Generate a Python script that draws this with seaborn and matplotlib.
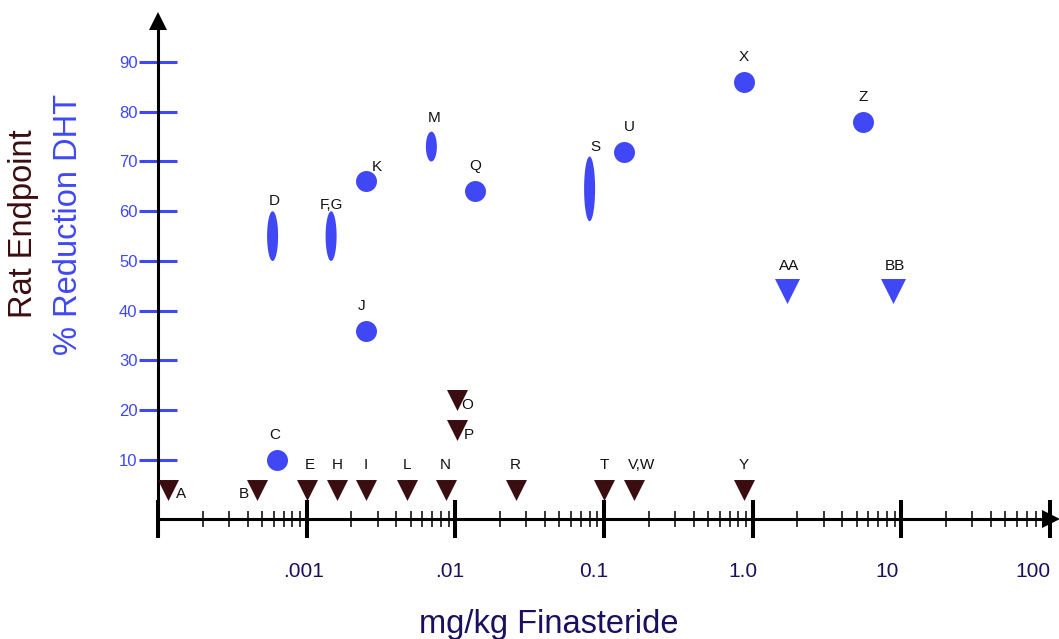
import numpy as np
import matplotlib
matplotlib.use("Agg")
import matplotlib.pyplot as plt
import matplotlib.transforms as mtransforms
from matplotlib.ticker import FixedLocator, LogLocator, NullFormatter, NullLocator
import seaborn as sns

# ---------------- data ----------------
circle_labels = ["C", "J", "K", "Q", "U", "X", "Z"]
circle_dose = [6.3e-4, 2.5e-3, 2.5e-3, 0.0136, 0.137, 0.87, 5.5]
circle_dht = [10, 36, 66, 64, 72, 86, 78]

range_labels = ["D", "F,G", "M", "S"]
range_dose = [5.9e-4, 1.46e-3, 6.9e-3, 0.080]
range_low = [50, 50, 70, 58]
range_high = [60, 60, 76, 71]

rat_labels = ["A", "B", "E", "H", "I", "L", "N", "O", "P", "R", "T", "V,W", "Y"]
rat_dose = [1.17e-4, 4.6e-4, 1.0e-3, 1.6e-3, 2.5e-3, 4.7e-3, 8.6e-3,
            0.0102, 0.0102, 0.0254, 0.1, 0.16, 0.87]
rat_value = [4, 4, 4, 4, 4, 4, 4, 22, 16, 4, 4, 4, 4]

tri_labels = ["AA", "BB"]
tri_dose = [1.7, 8.8]
tri_dht = [44, 44]

x_ticks = [1e-4, 1e-3, 1e-2, 1e-1, 1, 10, 100]
x_tick_labels = ["", ".001", ".01", "0.1", "1.0", "10", "100"]
y_ticks = [10, 20, 30, 40, 50, 60, 70, 80, 90]
y_tick_labels = ["10", "20", "30", "40", "50", "60", "70", "80", "90"]

# ---------------- style ----------------
BLUE = "#3f48f4"
BROWN = "#3a0d10"
NAVY = "#1a1060"
TXT = "#111111"

sns.set_theme(style="white")
plt.rcParams["font.family"] = ["Liberation Sans", "DejaVu Sans"]

W, H = 1059, 639
fig = plt.figure(figsize=(W / 100, H / 100), dpi=100)
ax_left, ax_right, ax_bottom, ax_top = 158, 1050, 519, 12.25
ax = fig.add_axes([ax_left / W, (H - ax_bottom) / H,
                   (ax_right - ax_left) / W, (ax_bottom - ax_top) / H])
ax.set_xscale("log")
ax.set_xlim(1e-4, 100)
ax.set_ylim(-1.86, 100)
for sp in ax.spines.values():
    sp.set_visible(False)
ax.grid(False)

# markers
sns.scatterplot(x=circle_dose, y=circle_dht, ax=ax, s=228, color=BLUE,
                linewidth=0, marker="o", zorder=4, legend=False)
sns.scatterplot(x=rat_dose, y=rat_value, ax=ax, s=228, color=BROWN,
                linewidth=0, marker="v", zorder=4, legend=False)
sns.scatterplot(x=tri_dose, y=tri_dht, ax=ax, s=324, color=BLUE,
                linewidth=0, marker="v", zorder=4, legend=False)

# range ellipses (vertical), half-width given in decades of the log axis
half_w_dec = 0.037
t = np.linspace(0, 2 * np.pi, 120)
for d, lo, hi in zip(range_dose, range_low, range_high):
    mid, half = (lo + hi) / 2, (hi - lo) / 2
    ax.fill(d * 10 ** (half_w_dec * np.cos(t)), mid + half * np.sin(t),
            color=BLUE, lw=0, zorder=4)

# point labels
default_off = (0, 25)
special_off = {"A": (13, -4.5), "B": (-13, -4.5), "O": (11, -5), "P": (12, -5),
               "K": (11, 14.5), "U": (5, 25), "J": (-4, 25), "V,W": (7, 25),
               "E": (3, 25), "C": (-2.5, 25), "AA": (2, 25), "BB": (2, 25)}
range_off = {"D": (2, 10), "F,G": (0, 6), "M": (3, 14), "S": (6, 10)}

def lab(txt, x, y, off):
    ax.annotate(txt, (x, y), xytext=off, textcoords="offset pixels",
                ha="center", va="center", fontsize=11, color=TXT, zorder=5)

for L, x, y in zip(circle_labels, circle_dose, circle_dht):
    lab(L, x, y, special_off.get(L, default_off))
for L, x, y in zip(rat_labels, rat_dose, rat_value):
    lab(L, x, y, special_off.get(L, default_off))
for L, x, y in zip(tri_labels, tri_dose, tri_dht):
    lab(L, x, y, special_off.get(L, default_off))
for L, x, y in zip(range_labels, range_dose, range_high):
    lab(L, x, y, range_off[L])

# axes lines and arrows
ah = ax_bottom - ax_top
ax.plot([0, 0], [-17 / ah, (ax_bottom - 27) / ah], transform=ax.transAxes,
        color="black", lw=2.2, clip_on=False, zorder=3, solid_capstyle="butt")
ax.plot([0], [(ax_bottom - 21) / ah], transform=ax.transAxes, marker="^",
        ms=13, color="black", clip_on=False, zorder=3, mew=0)
ax.plot([0, 1], [0, 0], transform=ax.transAxes, color="black", lw=2.2,
        clip_on=False, zorder=3, solid_capstyle="butt")
ax.plot([(1051 - ax_left) / (ax_right - ax_left)], [0], transform=ax.transAxes,
        marker=">", ms=12.5, color="black", clip_on=False, zorder=3, mew=0)

# ticks
ax.xaxis.set_major_locator(FixedLocator(x_ticks))
ax.set_xticklabels(x_tick_labels)
ax.xaxis.set_minor_locator(LogLocator(base=10, subs=np.arange(2, 10)))
ax.xaxis.set_minor_formatter(NullFormatter())
ax.tick_params(axis="x", which="major", direction="inout", length=27.4,
               width=2.9, color="black", labelsize=15, labelcolor=NAVY,
               pad=17, bottom=True)
ax.tick_params(axis="x", which="minor", direction="inout", length=12.2,
               width=1.1, color="black", bottom=True)
ax.set_yticks(y_ticks)
ax.set_yticklabels(y_tick_labels)
ax.yaxis.set_minor_locator(NullLocator())
ax.tick_params(axis="y", which="major", direction="inout", length=27.4,
               width=2.2, color=BLUE, labelsize=12, labelcolor=BLUE, pad=1,
               left=True)
# tick labels sit a little left of their tick marks (pixel shifts)
label_shift_px = [0, -3, -6, -10, -10, -14, -17]
for lbl, dx in zip(ax.get_xticklabels(), label_shift_px):
    lbl.set_transform(lbl.get_transform() +
                      mtransforms.ScaledTranslation(dx / 100, 0, fig.dpi_scale_trans))

ax.set_xlabel("")
ax.set_ylabel("")

# axis titles
fig.text(549 / W, (H - 624) / H, "mg/kg Finasteride", ha="center", va="center",
         fontsize=23.5, color=NAVY)
fig.text(24 / W, (H - 224) / H, "Rat Endpoint", rotation=90, ha="center",
         va="center", fontsize=23.5, color=BROWN)
fig.text(69 / W, (H - 224) / H, "% Reduction DHT", rotation=90, ha="center",
         va="center", fontsize=23.5, color=BLUE)

fig.savefig("out.png", dpi=100, facecolor="white")
